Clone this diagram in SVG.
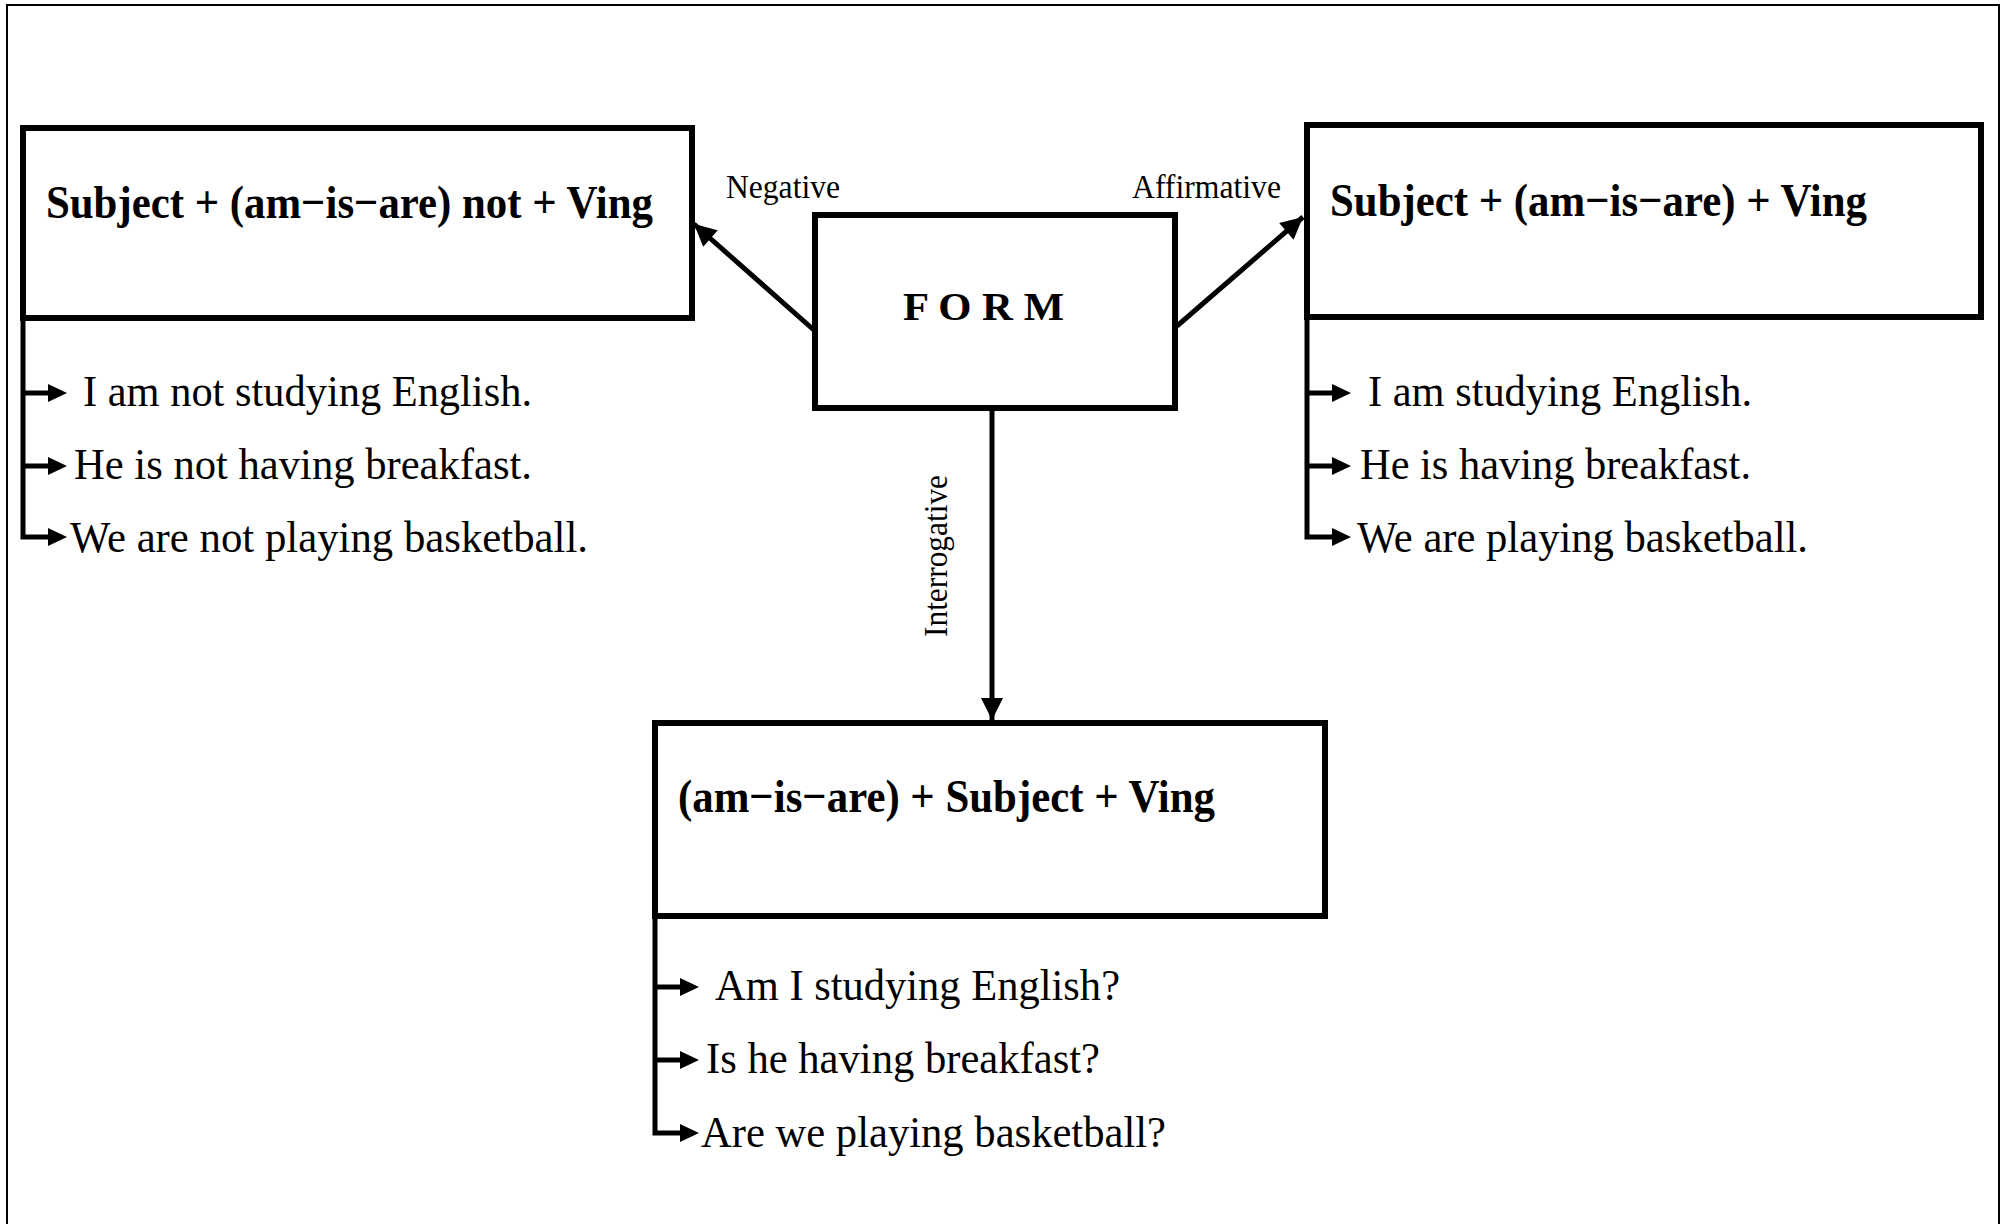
<svg xmlns="http://www.w3.org/2000/svg" width="2005" height="1224" viewBox="0 0 2005 1224">
  <defs>
    <style>
      .frame { fill: none; stroke: #000; stroke-width: 2; }
      .box { fill: #fff; stroke: #000; stroke-width: 6; }
      .line { fill: none; stroke: #000; stroke-width: 5; }
      .tip { fill: #000; }
      .head { font-family: "Liberation Serif", "Times New Roman", serif; font-weight: bold; font-size: 47px; fill: #000; }
      .form { font-family: "Liberation Serif", "Times New Roman", serif; font-weight: bold; font-size: 41px; fill: #000; }
      .label { font-family: "Liberation Serif", "Times New Roman", serif; font-size: 34px; fill: #000; }
      .item { font-family: "Liberation Serif", "Times New Roman", serif; font-size: 45px; fill: #000; }
    </style>
    <marker id="arrow" viewBox="0 0 10 10" refX="10" refY="5" markerWidth="4.6" markerHeight="4.4" markerUnits="strokeWidth" orient="auto">
      <path d="M0,0 L10,5 L0,10 Z" fill="#000"/>
    </marker>
  </defs>

  <!-- page frame -->
  <rect class="frame" x="7" y="5" width="1992" height="1240"/>

  <!-- connectors -->
  <g id="connectors">
    <line class="line" x1="815" y1="331" x2="694" y2="224" marker-end="url(#arrow)"/>
    <line class="line" x1="1177" y1="326" x2="1303" y2="217" marker-end="url(#arrow)"/>
    <line class="line" x1="992" y1="408" x2="992" y2="720" marker-end="url(#arrow)"/>
    <text class="label" transform="translate(947,637) rotate(-90)" textLength="162" lengthAdjust="spacingAndGlyphs">Interrogative</text>
    <text class="label" x="726" y="198" textLength="114" lengthAdjust="spacingAndGlyphs">Negative</text>
    <text class="label" x="1132" y="198" textLength="149" lengthAdjust="spacingAndGlyphs">Affirmative</text>
  </g>

  <!-- central node -->
  <g id="form">
    <rect class="box" x="815" y="215" width="360" height="193"/>
    <text class="form" x="903" y="320" textLength="161" lengthAdjust="spacingAndGlyphs">F O R M</text>
  </g>

  <!-- negative form -->
  <g id="negative">
    <rect class="box" x="23" y="128" width="669" height="190"/>
    <text class="head" x="46" y="218" textLength="607" lengthAdjust="spacingAndGlyphs">Subject + (am−is−are) not + Ving</text>
    <path class="line" d="M23,318 V537 H52 M23,393 H52 M23,466 H52"/>
    <path class="tip" d="M48,384 L67,393 L48,402 Z M48,457 L67,466 L48,475 Z M48,528 L67,537 L48,546 Z"/>
    <text class="item" x="83" y="406" textLength="449" lengthAdjust="spacingAndGlyphs">I am not studying English.</text>
    <text class="item" x="74" y="479" textLength="458" lengthAdjust="spacingAndGlyphs">He is not having breakfast.</text>
    <text class="item" x="70" y="552" textLength="518" lengthAdjust="spacingAndGlyphs">We are not playing basketball.</text>
  </g>

  <!-- affirmative form -->
  <g id="affirmative">
    <rect class="box" x="1307" y="125" width="674" height="192"/>
    <text class="head" x="1330" y="216" textLength="537" lengthAdjust="spacingAndGlyphs">Subject + (am−is−are) + Ving</text>
    <path class="line" d="M1307,317 V537 H1336 M1307,393 H1336 M1307,466 H1336"/>
    <path class="tip" d="M1332,384 L1351,393 L1332,402 Z M1332,457 L1351,466 L1332,475 Z M1332,528 L1351,537 L1332,546 Z"/>
    <text class="item" x="1368" y="406" textLength="384" lengthAdjust="spacingAndGlyphs">I am studying English.</text>
    <text class="item" x="1360" y="479" textLength="391" lengthAdjust="spacingAndGlyphs">He is having breakfast.</text>
    <text class="item" x="1357" y="552" textLength="451" lengthAdjust="spacingAndGlyphs">We are playing basketball.</text>
  </g>

  <!-- interrogative form -->
  <g id="interrogative">
    <rect class="box" x="655" y="723" width="670" height="193"/>
    <text class="head" x="678" y="812" textLength="537" lengthAdjust="spacingAndGlyphs">(am−is−are) + Subject + Ving</text>
    <path class="line" d="M655,916 V1133 H684 M655,987 H684 M655,1060 H684"/>
    <path class="tip" d="M680,978 L699,987 L680,996 Z M680,1051 L699,1060 L680,1069 Z M680,1124 L699,1133 L680,1142 Z"/>
    <text class="item" x="715" y="1000" textLength="405" lengthAdjust="spacingAndGlyphs">Am I studying English?</text>
    <text class="item" x="706" y="1073" textLength="394" lengthAdjust="spacingAndGlyphs">Is he having breakfast?</text>
    <text class="item" x="701" y="1147" textLength="465" lengthAdjust="spacingAndGlyphs">Are we playing basketball?</text>
  </g>
</svg>
